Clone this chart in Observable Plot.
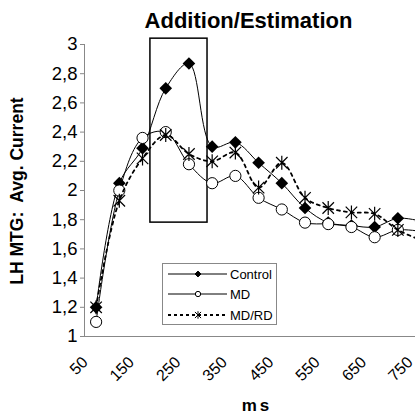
<!DOCTYPE html>
<html><head><meta charset="utf-8">
<script src="https://cdn.jsdelivr.net/npm/d3@7"></script>
<script src="https://cdn.jsdelivr.net/npm/@observablehq/plot@0.6"></script>
<style>
html,body{margin:0;padding:0;background:#fff;overflow:hidden;}
#chart{width:415px;height:417px;overflow:hidden;}
</style></head><body><div id="chart"></div>
<script>
const title = "Addition/Estimation";
const yLabel = "LH MTG:  Avg. Current";
const xLabel = "ms";
const seriesNames = ["Control", "MD", "MD/RD"];
const ms = [50, 100, 150, 200, 250, 300, 350, 400, 450, 500, 550, 600, 650, 700, 750];
const control = [1.20, 2.05, 2.29, 2.70, 2.87, 2.30, 2.33, 2.19, 2.05, 1.88, 1.78, 1.76, 1.75, 1.81, 1.79];
const md      = [1.10, 2.00, 2.36, 2.40, 2.18, 2.05, 2.10, 1.95, 1.87, 1.78, 1.77, 1.75, 1.68, 1.73, 1.72];
const mdrd    = [1.20, 1.93, 2.22, 2.38, 2.25, 2.20, 2.26, 2.02, 2.19, 1.95, 1.88, 1.85, 1.84, 1.73, 1.66];
const yTicks = [1, 1.2, 1.4, 1.6, 1.8, 2, 2.2, 2.4, 2.6, 2.8, 3];
const xTicks = [50, 150, 250, 350, 450, 550, 650, 750];
const windowMs = [167, 290];
const windowAvg = [1.78, 3.04];

const values = [control, md, mdrd];
const rows = seriesNames.map((name, s) => ms.map((t, i) => ({series: name, ms: t, v: values[s][i]})));

const star = {
  draw(ctx, size) {
    const r = Math.sqrt(size / Math.PI);
    const a = r * 0.82;
    ctx.moveTo(0, -r); ctx.lineTo(0, r);
    ctx.moveTo(-a, -a); ctx.lineTo(a, a);
    ctx.moveTo(-a, a); ctx.lineTo(a, -a);
  }
};
const fmt = d => String(d).replace(".", ",");
const font = "'Liberation Sans', Arial, sans-serif";

const plot = Plot.plot({
  width: 415, height: 417,
  marginLeft: 84, marginRight: 0, marginTop: 44, marginBottom: 81,
  style: {fontFamily: font, fontSize: "16px", background: "white", color: "black"},
  x: {domain: [25, 738]},
  y: {domain: [1, 3]},
  marks: [
    Plot.axisY(yTicks, {tickSize: 4, tickPadding: 3, stroke: "#888", fill: "black", tickFormat: fmt, fontSize: 18.5, label: null}),
    Plot.axisX(xTicks, {tickSize: 0, tickRotate: -45, tickPadding: 16, dx: -11, dy: 7, fill: "black", fontSize: 16, label: null}),
    Plot.ruleX([25], {stroke: "#888"}),
    Plot.ruleY([1], {stroke: "#888"}),
    Plot.rect([{x1: windowMs[0], x2: windowMs[1], y1: windowAvg[0], y2: windowAvg[1]}], {x1: "x1", x2: "x2", y1: "y1", y2: "y2", fill: "none", stroke: "black", strokeWidth: 1.5}),
    Plot.line(rows[0], {x: "ms", y: "v", stroke: "black", strokeWidth: 1, curve: "catmull-rom"}),
    Plot.dot(rows[0], {x: "ms", y: "v", symbol: d3.symbolDiamond2, fill: "black", stroke: "none", r: 5.7}),
    Plot.line(rows[1], {x: "ms", y: "v", stroke: "black", strokeWidth: 1, curve: "catmull-rom"}),
    Plot.dot(rows[1], {x: "ms", y: "v", symbol: "circle", fill: "white", stroke: "black", strokeWidth: 1, r: 5.6}),
    Plot.line(rows[2], {x: "ms", y: "v", stroke: "black", strokeWidth: 1.8, strokeDasharray: "3,4", curve: "catmull-rom"}),
    Plot.dot(rows[2], {x: "ms", y: "v", symbol: star, fill: "none", stroke: "black", strokeWidth: 1.2, r: 7})
  ]
});

const svg = d3.select(plot);
svg.append("text").attr("x", 248.5).attr("y", 28).attr("text-anchor", "middle")
  .attr("font-family", font).attr("font-size", 22).attr("font-weight", "bold").text(title);
svg.append("text").attr("transform", "translate(23,191) rotate(-90)").attr("text-anchor", "middle")
  .attr("font-family", font).attr("font-size", 17.5).attr("font-weight", "bold").text(yLabel);
svg.append("text").attr("x", 257).attr("y", 411).attr("text-anchor", "middle")
  .attr("font-family", font).attr("font-size", 17).attr("font-weight", "bold").attr("letter-spacing", 3).text(xLabel);

const lg = svg.append("g");
lg.append("rect").attr("x", 162.5).attr("y", 263.5).attr("width", 114).attr("height", 61)
  .attr("fill", "white").attr("stroke", "#888");
const legendY = [274, 294, 315];
seriesNames.forEach((name, i) => {
  const y = legendY[i];
  lg.append("line").attr("x1", 168).attr("x2", 227).attr("y1", y).attr("y2", y)
    .attr("stroke", "black").attr("stroke-width", i === 2 ? 1.8 : 1).attr("stroke-dasharray", i === 2 ? "3,3" : null);
  const sym = [d3.symbolDiamond2, d3.symbolCircle, star][i];
  lg.append("path").attr("transform", `translate(198,${y})`)
    .attr("d", d3.symbol(sym, Math.PI * (i === 2 ? 14 : 7)))
    .attr("fill", i === 0 ? "black" : i === 1 ? "white" : "none").attr("stroke", "black").attr("stroke-width", 1);
  lg.append("text").attr("x", 230).attr("y", y + 4.5).attr("text-anchor", "start")
    .attr("font-family", font).attr("font-size", 13).text(name);
});

document.getElementById("chart").appendChild(plot);
</script></body></html>
